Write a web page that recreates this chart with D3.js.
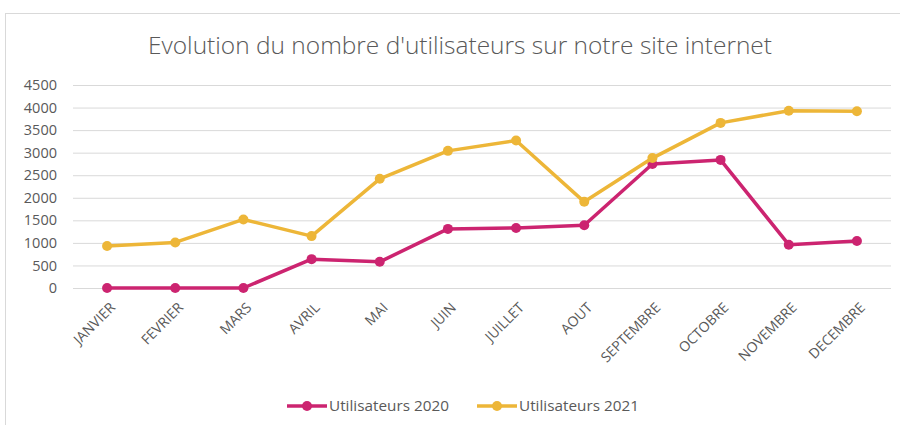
<!DOCTYPE html>
<html>
<head>
<meta charset="utf-8">
<script src="https://cdn.jsdelivr.net/npm/d3@7"></script>
<style>
  html, body { margin: 0; padding: 0; background: #fff; }
  svg { display: block; }
  text { font-family: "Open Sans", "Noto Sans", sans-serif; fill: #595959; }
</style>
</head>
<body>
<svg id="chart" width="900" height="425"></svg>
<script>
const months = ["JANVIER", "FEVRIER", "MARS", "AVRIL", "MAI", "JUIN", "JUILLET", "AOUT", "SEPTEMBRE", "OCTOBRE", "NOVEMBRE", "DECEMBRE"];
const users2020 = [0, 0, 0, 640, 580, 1310, 1330, 1390, 2750, 2840, 960, 1040];
const users2021 = [930, 1010, 1520, 1150, 2420, 3040, 3270, 1910, 2880, 3660, 3930, 3920];
const yTicks = [0, 500, 1000, 1500, 2000, 2500, 3000, 3500, 4000, 4500];
const seriesNames = ["Utilisateurs 2020", "Utilisateurs 2021"];
const colors = ["#CC2470", "#EDB638"];

const svg = d3.select("#chart");

// chart frame
svg.append("rect")
  .attr("x", 5.5).attr("y", 13.5)
  .attr("width", 900).attr("height", 420)
  .attr("fill", "none").attr("stroke", "#D9D9D9");

const plot = { left: 73, right: 891, top: 85, bottom: 288 };

const x = d3.scalePoint().domain(months).range([plot.left, plot.right]).padding(0.5);
const y = d3.scaleLinear().domain([0, 4500]).range([plot.bottom, plot.top]);

// title
svg.append("text")
  .attr("x", 460).attr("y", 54)
  .attr("text-anchor", "middle")
  .attr("font-size", 23)
  .attr("textLength", 624).attr("lengthAdjust", "spacingAndGlyphs")
  .style("font-weight", 300)
  .text("Evolution du nombre d'utilisateurs sur notre site internet");

// horizontal gridlines and value labels
const yAxis = svg.append("g")
  .attr("transform", `translate(${plot.left},0)`)
  .call(d3.axisLeft(y).tickValues(yTicks).tickFormat(d3.format("d"))
    .tickSize(-(plot.right - plot.left)).tickPadding(16));
yAxis.select(".domain").remove();
yAxis.selectAll(".tick line").attr("stroke", "#D9D9D9").attr("stroke-width", 1);
yAxis.selectAll(".tick text")
  .attr("font-size", 14.5).attr("font-family", "'Open Sans', sans-serif").attr("fill", "#595959");

// month labels, rotated
const xAxis = svg.append("g")
  .attr("transform", `translate(0,${plot.bottom})`)
  .call(d3.axisBottom(x).tickSize(0).tickPadding(0));
xAxis.select(".domain").remove();
xAxis.selectAll(".tick text")
  .attr("font-size", 14).attr("font-family", "'Open Sans', sans-serif").attr("fill", "#595959")
  .attr("text-anchor", "end")
  .attr("transform", "translate(5,17) rotate(-45)")
  .attr("dy", "0.35em");

// series
const series = [users2020, users2021];
const line = d3.line().x((d, i) => x(months[i])).y(d => y(d));

series.forEach((vals, s) => {
  const g = svg.append("g");
  g.append("path")
    .datum(vals)
    .attr("d", line)
    .attr("fill", "none")
    .attr("stroke", colors[s])
    .attr("stroke-width", 3.5)
    .attr("stroke-linejoin", "round");
  g.selectAll("circle")
    .data(vals)
    .join("circle")
    .attr("cx", (d, i) => x(months[i]))
    .attr("cy", d => y(d))
    .attr("r", 5)
    .attr("fill", colors[s]);
});

// legend
const legendX = [287, 477];
const legendY = 406;
seriesNames.forEach((name, s) => {
  const g = svg.append("g").attr("transform", `translate(${legendX[s]},${legendY})`);
  g.append("line").attr("x1", 0).attr("x2", 40).attr("y1", 0).attr("y2", 0)
    .attr("stroke", colors[s]).attr("stroke-width", 3.5);
  g.append("circle").attr("cx", 20).attr("cy", 0).attr("r", 5).attr("fill", colors[s]);
  g.append("text").attr("x", 42).attr("y", 0).attr("dy", "0.35em")
    .attr("font-size", 15.3).text(name);
});
</script>
</body>
</html>
